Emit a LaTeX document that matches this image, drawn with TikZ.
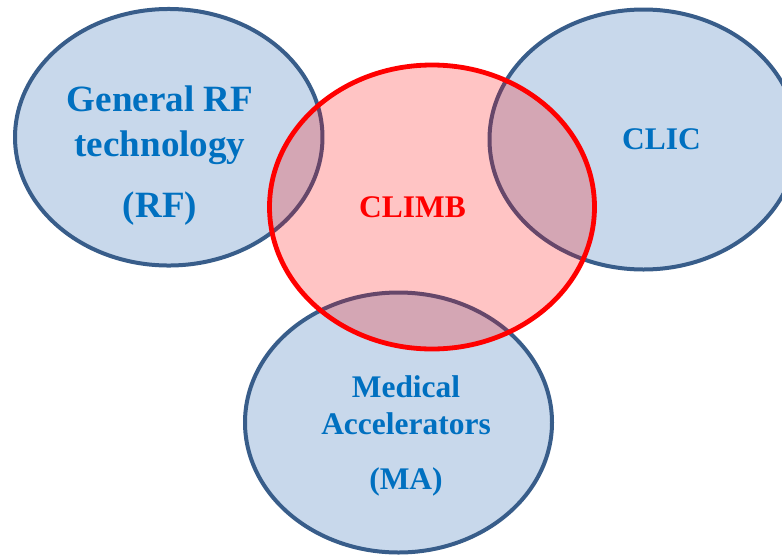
\documentclass[tikz,border=0pt]{standalone}
\usepackage{fontspec}
\setmainfont{Liberation Serif}
\usetikzlibrary{shapes.geometric}
\definecolor{fieldline}{HTML}{385D8A}
\definecolor{fieldfill}{HTML}{C8D8EB}
\definecolor{fieldtext}{HTML}{0070C0}
\definecolor{climbred}{HTML}{FF0000}

\begin{document}
\begin{tikzpicture}[x=0.75pt,y=-0.75pt,
  field/.style 2 args={ellipse,draw=fieldline,fill=fieldfill,line width=3pt,
    inner sep=0pt,minimum width=#1,minimum height=#2},
  core/.style 2 args={ellipse,draw=climbred,fill=climbred,fill opacity=0.23,
    line width=3.6pt,inner sep=0pt,minimum width=#1,minimum height=#2},
  flabel/.style={text=fieldtext,font=\bfseries\fontsize{23.6pt}{27.75pt}\selectfont,
    align=center,inner sep=0pt}]
\useasboundingbox (0,0) rectangle (782,554);

% ---- the three fields, underneath ----------------------------------------
\node[field={230.6pt}{192.4pt}] (rf)   at (168.75,137.25) {};
\node[field={231pt}{195pt}]     (clic) at (643.5,139.5)   {};
\node[field={230.25pt}{195pt}]  (ma)   at (398.5,422.5)   {};
% ---- CLIMB on top, see-through fill ---------------------------------------
\node[core={243.75pt}{213pt}]   (climb) at (432,207)      {};

% ---- labels ---------------------------------------------------------------
\node[flabel,font=\bfseries\fontsize{27.8pt}{33.75pt}\selectfont] (rftext) at (160,156)
  {General RF\\technology\\[12pt](RF)};
\node[flabel,anchor=base] (clictext) at (661.5,149) {CLIC};
\node[flabel,anchor=base,text=climbred] (climbtext) at (412.5,217) {CLIMB};
\node[flabel] (matext) at (406,435.5) {Medical\\Accelerators\\[13.5pt](MA)};
\end{tikzpicture}
\end{document}
